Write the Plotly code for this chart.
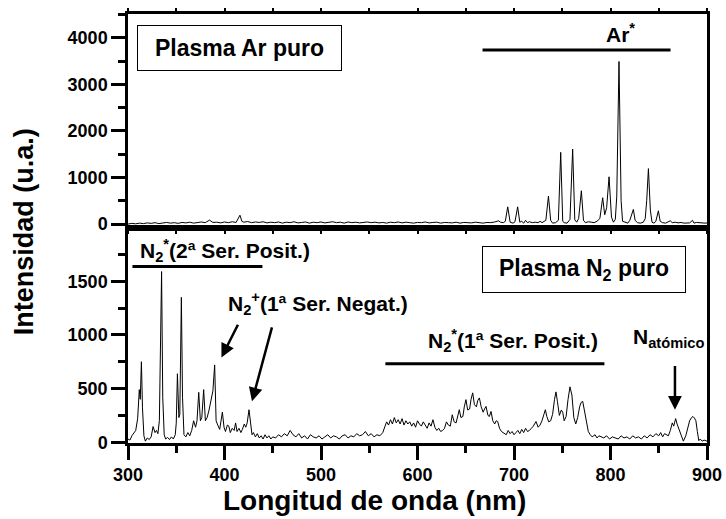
import plotly.graph_objects as go
from plotly.subplots import make_subplots

# Emission spectrum of a pure Ar plasma (wavelength in nm, intensity in a.u.)
ar_wavelength = [
    300, 304, 308, 312, 316, 320, 324, 328, 332, 336, 340, 344, 348, 352, 356, 360,
    364, 368, 372, 376, 380, 384.5, 388, 392, 396, 400, 404, 408, 412, 416, 418, 420,
    424, 428, 432, 436, 440, 444, 448, 452, 456, 460, 464, 468, 472, 476, 480, 484,
    488, 492, 496, 500, 504, 508, 512, 516, 520, 524, 528, 532, 536, 540, 544, 548,
    552, 556, 560, 564, 568, 572, 576, 580, 584, 588, 592, 596, 600, 604, 608, 612,
    616, 620, 624, 628, 632, 636, 640, 644, 648, 652, 656, 660, 664, 668, 672, 676,
    680, 684, 686, 689, 691, 693.5, 696, 699, 701, 703.8, 706, 708, 710, 712, 714, 716,
    719, 722, 725, 727, 729, 731, 733, 735.7, 738, 740, 743, 746, 748.4, 750.5, 752, 755,
    758, 760.8, 763, 765, 767, 769.8, 772, 774, 777, 780, 783, 786, 789, 791.9, 794, 796,
    798.5, 801, 803, 805, 806.5, 808.8, 811, 812.5, 815, 818, 820, 821.5, 823.7, 825.5, 828, 831,
    834, 836, 837.5, 839.3, 841.3, 843, 845, 847, 849.6, 851.5, 854, 857, 860, 862, 864, 867,
    870, 873, 876, 879, 882, 885, 886.5, 889, 892, 895, 898, 900,
]
ar_intensity = [
    0, 15, 5, 20, 10, 25, 15, 30, 10, 25, 35, 20, 30, 15, 35, 25,
    40, 20, 30, 45, 30, 85, 35, 40, 25, 45, 30, 50, 35, 190, 60, 40,
    55, 30, 45, 35, 50, 25, 40, 30, 45, 20, 40, 30, 50, 25, 35, 45,
    20, 40, 30, 45, 25, 35, 50, 30, 40, 20, 45, 30, 40, 25, 35, 45,
    30, 40, 25, 35, 20, 40, 30, 45, 25, 40, 30, 20, 35, 30, 45, 25,
    35, 40, 20, 35, 30, 25, 40, 20, 35, 30, 25, 40, 30, 20, 35, 30,
    45, 70, 40, 30, 60, 370, 40, 20, 50, 370, 40, 60, 20, 80, 30, 50,
    30, 40, 30, 60, 30, 50, 80, 600, 80, 20, 30, 80, 1540, 60, 30, 20,
    100, 1610, 90, 40, 120, 715, 80, 30, 50, 40, 30, 60, 120, 565, 200, 350,
    1015, 150, 40, 100, 600, 3490, 500, 60, 40, 20, 80, 200, 315, 80, 30, 20,
    40, 120, 500, 1190, 300, 40, 20, 60, 285, 60, 30, 20, 50, 70, 30, 40,
    25, 35, 20, 30, 25, 80, 20, 35, 25, 30, 20, 25,
]

# Emission spectrum of a pure N2 plasma
n2_wavelength = [
    300, 302, 304, 306, 308, 310, 311.7, 312.7, 313.9, 315, 316.5, 318, 320, 322, 324, 326,
    328, 329.5, 331, 332.5, 334.8, 336, 337.5, 339, 341, 343, 345, 347, 349, 350, 351.2, 352.7,
    353.7, 355.3, 356.5, 358, 360, 362, 364, 366, 368, 370, 371.5, 373.3, 375, 376.5, 378.4, 380.2,
    382, 384, 386, 388, 389.8, 391.3, 393, 395, 397.8, 399.5, 401, 403, 404.5, 406, 408, 410,
    411.5, 413, 415, 417, 418.5, 420.5, 422, 423.5, 425.4, 427, 428.5, 430, 432, 434, 436, 438,
    440, 442, 444, 446, 448, 450, 453, 456, 459, 462, 465, 468, 471, 474, 477, 480,
    483, 486, 489, 492, 495, 498, 501, 504, 507, 510, 513, 516, 519, 522, 525, 528,
    531, 534, 537, 540, 543, 546, 549, 552, 555, 558, 561, 564, 566, 568, 570, 572,
    574, 576, 578, 580, 582, 584, 586, 588, 590, 592, 594, 596, 598, 600, 602, 604,
    606, 608, 610, 612, 614, 616, 618, 620, 622, 624, 626, 628, 630, 632, 634, 636,
    638, 640, 641.5, 643.3, 645, 647, 648.5, 650.2, 652, 654, 655.5, 657.2, 659, 661, 662.5, 664.1,
    666, 668, 669.5, 671, 673, 674.5, 676.2, 678, 680, 681.5, 683.1, 685, 687, 689, 692, 694,
    696, 698, 700, 702, 704, 706, 708, 710, 712, 714, 716, 718, 720, 722.8, 725, 727,
    729, 731, 732.5, 734, 736, 738, 740, 742, 743.5, 745, 747, 749, 750.5, 752, 754, 756,
    758, 760, 762, 764, 766, 768, 769.5, 771.2, 773, 775, 777, 779, 781, 784, 786, 788,
    790, 793, 796, 799, 802, 805, 808, 811, 814, 817, 820, 823, 826, 829, 832, 835,
    838, 841, 844, 847, 850, 852, 854, 856, 858, 860, 862, 864, 865.5, 867.5, 869, 871,
    873, 875.5, 878, 880, 882, 884, 885.5, 887, 888.5, 890, 891.5, 893, 895, 897, 900,
]
n2_intensity = [
    30, 20, 60, 85, 110, 220, 490, 400, 750, 320, 60, 10, 40, 25, 50, 146,
    90, 110, 80, 200, 1590, 420, 70, 30, 45, 25, 50, 30, 70, 180, 638, 230,
    260, 1350, 420, 70, 50, 90, 60, 110, 200, 140, 200, 465, 200, 230, 490, 200,
    230, 300, 380, 480, 720, 200, 160, 120, 280, 140, 100, 160, 150, 90, 130, 110,
    180, 100, 130, 90, 120, 170, 140, 180, 303, 150, 70, 90, 50, 80, 40, 60,
    30, 70, 40, 60, 30, 50, 40, 70, 50, 80, 60, 110, 70, 50, 80, 40,
    60, 30, 70, 50, 40, 60, 30, 50, 70, 40, 60, 50, 30, 60, 70, 40,
    60, 50, 80, 60, 70, 100, 60, 80, 50, 70, 60, 90, 150, 190, 160, 210,
    170, 230, 180, 210, 170, 220, 160, 200, 170, 190, 150, 180, 140, 200, 170, 150,
    190, 160, 130, 180, 150, 210, 140, 110, 130, 100, 110, 130, 190, 160, 150, 256,
    190, 180, 230, 303, 230, 240, 330, 397, 300, 310, 400, 460, 350, 330, 390, 413,
    330, 280, 310, 334, 250, 240, 287, 200, 170, 200, 193, 130, 100, 90, 70, 110,
    80, 100, 70, 90, 110, 80, 120, 90, 130, 100, 110, 130, 150, 193, 140, 160,
    200, 260, 303, 240, 190, 200, 260, 400, 469, 380, 250, 300, 280, 200, 240, 400,
    516, 440, 230, 170, 230, 330, 370, 381, 300, 180, 100, 70, 50, 70, 40, 60,
    50, 40, 60, 30, 50, 40, 30, 60, 40, 50, 30, 60, 40, 50, 30, 60,
    40, 70, 50, 80, 60, 90, 50, 80, 70, 60, 110, 180, 150, 220, 170, 120,
    60, 10, 60, 130, 200, 230, 240, 225, 200, 100, 15, 30, 10, 20, 10,
]

x_range = [300, 900]
ar_range = [-86, 4510]
n2_range = [-7, 1995]

FONT = "Arial, 'Liberation Sans', sans-serif"
INK = "black"

fig = make_subplots(rows=2, cols=1, shared_xaxes=True, vertical_spacing=0)

fig.add_trace(go.Scatter(x=ar_wavelength, y=ar_intensity, mode="lines",
                         line=dict(color=INK, width=1), showlegend=False), row=1, col=1)
fig.add_trace(go.Scatter(x=n2_wavelength, y=n2_intensity, mode="lines",
                         line=dict(color=INK, width=1), showlegend=False), row=2, col=1)

tickfont = dict(family=FONT, size=18, color=INK, weight="bold")
axis_common = dict(showline=True, linecolor=INK, linewidth=2.5, showgrid=False,
                   zeroline=False, tickcolor=INK, tickfont=tickfont, automargin=False)

# top panel (Ar)
fig.update_xaxes(range=x_range, mirror="ticks", ticks="outside", ticklen=3, tickwidth=1.5,
                 tick0=300, dtick=50, showticklabels=False, row=1, col=1, **axis_common)
fig.update_yaxes(range=ar_range, domain=[0.501, 1], mirror=True, ticks="outside",
                 ticklen=14, tickwidth=2.5, tick0=0, dtick=1000,
                 minor=dict(ticks="outside", ticklen=7, tickwidth=2.5, dtick=500, tickcolor=INK),
                 row=1, col=1, **axis_common)
# bottom panel (N2)
fig.update_xaxes(range=x_range, mirror=True, ticks="outside", ticklen=14, tickwidth=2.5,
                 tick0=300, dtick=100, showticklabels=True,
                 minor=dict(ticks="outside", ticklen=7, tickwidth=2.5, dtick=50, tickcolor=INK),
                 row=2, col=1, **axis_common)
fig.update_yaxes(range=n2_range, domain=[0, 0.501], mirror=True, ticks="outside",
                 ticklen=14, tickwidth=2.5, tick0=0, dtick=500,
                 minor=dict(ticks="outside", ticklen=7, tickwidth=2.5, dtick=250, tickcolor=INK),
                 row=2, col=1, **axis_common)

label_font = dict(family=FONT, size=21, color=INK)
box_font = dict(family=FONT, size=23, color=INK)

annotations = [
    # axis titles
    dict(text="<b>Longitud de onda (nm)</b>", xref="paper", yref="paper", x=0.425, y=-0.175,
         showarrow=False, xanchor="center", yanchor="bottom",
         font=dict(family=FONT, size=28, color=INK)),
    dict(text="<b>Intensidad (u.a.)</b>", xref="paper", yref="paper", x=-0.18, y=0.493,
         showarrow=False, textangle=-90, xanchor="center", yanchor="middle",
         font=dict(family=FONT, size=27, color=INK)),
    # boxed panel labels
    dict(text="<b>Plasma Ar puro</b>", xref="x", yref="y", x=416, y=3780, showarrow=False,
         font=box_font, bordercolor=INK, borderwidth=1, borderpad=4, width=195, height=36,
         bgcolor="white"),
    dict(text="<b>Plasma N<sub>2</sub> puro</b>", xref="x2", yref="y2", x=773, y=1612,
         showarrow=False, font=box_font, bordercolor=INK, borderwidth=1, borderpad=4,
         width=194, height=37, bgcolor="white"),
    # band labels
    dict(text="<b>Ar<sup>*</sup></b>", xref="x", yref="y", x=810, y=4100, showarrow=False,
         font=label_font),
    dict(text="<b>N<sub>2</sub><sup>*</sup>(2ª Ser. Posit.)</b>", xref="x2", yref="y2",
         x=400, y=1790, showarrow=False, font=label_font),
    dict(text="<b>N<sub>2</sub><sup>+</sup>(1ª Ser. Negat.)</b>", xref="x2", yref="y2",
         x=497, y=1295, showarrow=False, font=label_font),
    dict(text="<b>N<sub>2</sub><sup>*</sup>(1ª Ser. Posit.)</b>", xref="x2", yref="y2",
         x=699, y=950, showarrow=False, font=label_font),
    dict(text="<b>N<sub>atómico</sub></b>", xref="x2", yref="y2", x=861, y=970,
         showarrow=False, font=label_font),
]

# arrows pointing at bands (head at x/y, tail at ax/ay)
arrow_style = dict(showarrow=True, arrowhead=2, arrowsize=1.1, arrowwidth=2.5,
                   arrowcolor=INK, text="", xref="x2", yref="y2", axref="x2", ayref="y2")
annotations += [
    dict(x=396.8, y=790, ax=414.7, ay=1109, **arrow_style),
    dict(x=428.5, y=381, ax=449.6, ay=1084, **arrow_style),
    dict(x=866.8, y=303, ax=866.8, ay=725, **arrow_style),
]
fig.update_layout(annotations=annotations)

# horizontal bars marking band ranges
bar = dict(type="line", line=dict(color=INK, width=3))
fig.add_shape(x0=667.4, x1=862.2, y0=3736, y1=3736, xref="x", yref="y", **bar)
fig.add_shape(x0=304.6, x1=439.3, y0=1637, y1=1637, xref="x2", yref="y2", **bar)
fig.add_shape(x0=566.7, x1=793.7, y0=731, y1=731, xref="x2", yref="y2", **bar)

fig.update_layout(
    width=726, height=519,
    margin=dict(l=128, r=19, t=14, b=76),
    plot_bgcolor="white", paper_bgcolor="white",
    showlegend=False,
)

fig.write_html("out.html")
